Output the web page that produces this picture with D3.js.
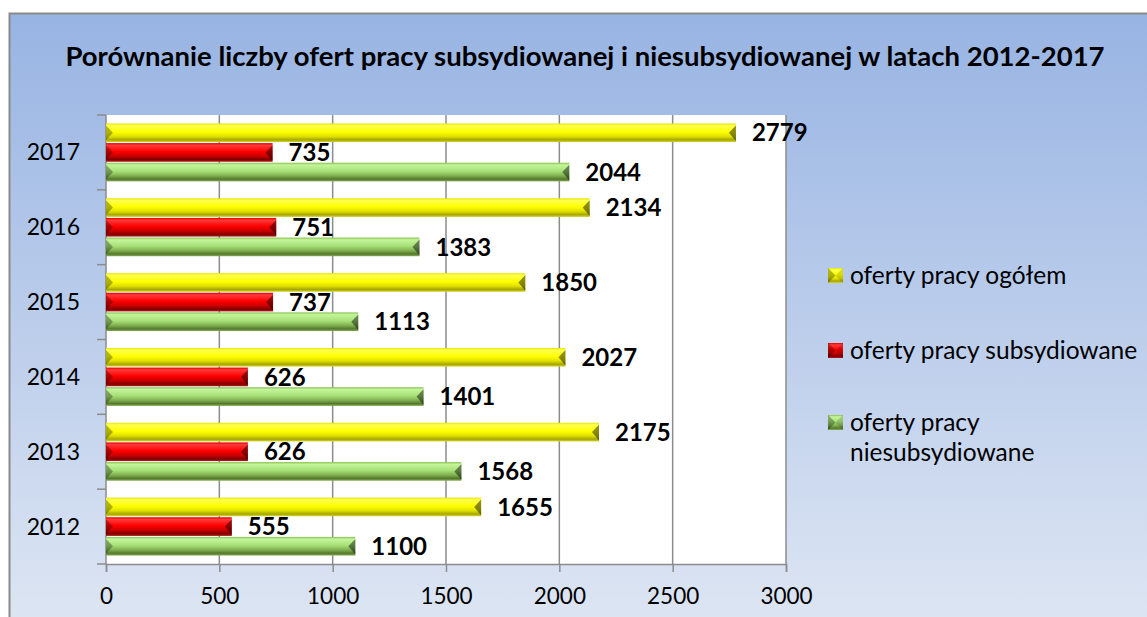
<!DOCTYPE html>
<html>
<head>
<meta charset="utf-8">
<title>oferty pracy</title>
<style>
  body { margin: 0; background: #ffffff; }
  svg { display: block; font-family: Lato, "Open Sans", sans-serif; }
</style>
</head>
<body>
<svg id="chart" width="1147" height="617"></svg>
<script src="https://cdn.jsdelivr.net/npm/d3@7"></script>
<script>
// ---------------- dane ----------------
var years = ["2012", "2013", "2014", "2015", "2016", "2017"];
var ogolem = [1655, 2175, 2027, 1850, 2134, 2779];
var subsydiowane = [555, 626, 626, 737, 751, 735];
var niesubsydiowane = [1100, 1568, 1401, 1113, 1383, 2044];
var seriesNames = ["oferty pracy ogółem", "oferty pracy subsydiowane", "oferty pracy niesubsydiowane"];
var xTicks = [0, 500, 1000, 1500, 2000, 2500, 3000];
var title = "Porównanie liczby ofert pracy subsydiowanej i niesubsydiowanej w latach 2012-2017";

var series = [
  { key: "ogolem", name: seriesNames[0], values: ogolem, grad: "gY" },
  { key: "sub", name: seriesNames[1], values: subsydiowane, grad: "gR" },
  { key: "niesub", name: seriesNames[2], values: niesubsydiowane, grad: "gG" }
];

var svg = d3.select("#chart");
var defs = svg.append("defs");

// tlo wykresu
var bg = defs.append("linearGradient").attr("id", "bg")
  .attr("x1", 0).attr("y1", 0).attr("x2", 0).attr("y2", 1);
bg.append("stop").attr("offset", "0%").attr("stop-color", "#98b4e3");
bg.append("stop").attr("offset", "100%").attr("stop-color", "#dee6f3");

// gradienty slupkow (efekt wypuklosci)
function barGrad(id, stops) {
  var g = defs.append("linearGradient").attr("id", id)
    .attr("x1", 0).attr("y1", 0).attr("x2", 0).attr("y2", 1);
  stops.forEach(function (s) {
    g.append("stop").attr("offset", s[0]).attr("stop-color", s[1]);
  });
}
barGrad("gY", [["0", "#e6e600"], ["0.12", "#ffff50"], ["0.45", "#ffff00"], ["0.7", "#e0e000"], ["0.88", "#a6a600"], ["1", "#d6d630"]]);
barGrad("gR", [["0", "#e00000"], ["0.12", "#ff3a3a"], ["0.45", "#ff0000"], ["0.7", "#c80000"], ["0.88", "#800000"], ["1", "#b01818"]]);
barGrad("gG", [["0", "#88c050"], ["0.12", "#c4f59a"], ["0.45", "#a8e078"], ["0.7", "#80b050"], ["0.88", "#54782c"], ["1", "#86ac58"]]);

svg.append("rect")
  .attr("x", 9.5).attr("y", 13.5)
  .attr("width", 1147).attr("height", 617)
  .attr("fill", "url(#bg)")
  .attr("stroke", "#8a8a8a").attr("stroke-width", 2);

// tytul
svg.append("text")
  .attr("x", 585).attr("y", 66)
  .attr("text-anchor", "middle")
  .attr("font-weight", "bold")
  .attr("font-size", "27.5px")
  .attr("fill", "#000")
  .text(title);

// obszar wykresu
var pLeft = 106, pRight = 786, pTop = 115, pBottom = 564;

var x = d3.scaleLinear().domain([0, 3000]).range([pLeft, pRight]);
var y = d3.scaleBand().domain(years.slice().reverse()).range([pTop, pBottom]);
var ys = d3.scaleBand().domain(series.map(function (s) { return s.key; }))
  .range([0, y.bandwidth()]).paddingInner(0.05).paddingOuter(0.43);

svg.append("rect")
  .attr("x", pLeft).attr("y", pTop)
  .attr("width", pRight - pLeft).attr("height", pBottom - pTop)
  .attr("fill", "#ffffff");

// siatka
svg.append("g").selectAll("line")
  .data(xTicks.slice(1))
  .enter().append("line")
  .attr("x1", function (d) { return x(d); })
  .attr("x2", function (d) { return x(d); })
  .attr("y1", pTop).attr("y2", pBottom)
  .attr("stroke", "#8c8c8c").attr("stroke-width", 1.5);

// os X
var xAxis = svg.append("g")
  .attr("transform", "translate(0," + pBottom + ")")
  .call(d3.axisBottom(x).tickValues(xTicks).tickFormat(d3.format("d")).tickSize(8).tickPadding(16));
xAxis.select(".domain").attr("stroke", "#8c8c8c").attr("stroke-width", 1.5);
xAxis.selectAll(".tick line").attr("stroke", "#8c8c8c").attr("stroke-width", 1.5);
xAxis.selectAll(".tick text")
  .attr("font-family", "Lato, sans-serif")
  .attr("font-size", "22.5px").attr("fill", "#000");

// os Y
var bandEdges = years.map(function (d) { return y(d); }).concat([pBottom]);
svg.append("line")
  .attr("x1", pLeft).attr("x2", pLeft).attr("y1", pTop).attr("y2", pBottom)
  .attr("stroke", "#8c8c8c").attr("stroke-width", 1.5);
svg.append("g").selectAll("line")
  .data(bandEdges)
  .enter().append("line")
  .attr("x1", pLeft - 9).attr("x2", pLeft)
  .attr("y1", function (d) { return d; }).attr("y2", function (d) { return d; })
  .attr("stroke", "#8c8c8c").attr("stroke-width", 1.5);
svg.append("g").selectAll("text")
  .data(years)
  .enter().append("text")
  .attr("x", 80)
  .attr("y", function (d) { return y(d) + y.bandwidth() / 2; })
  .attr("dy", "0.35em")
  .attr("text-anchor", "end")
  .attr("font-size", "23px")
  .text(function (d) { return d; });

// slupki
var rows = [];
series.forEach(function (s) {
  years.forEach(function (yr, i) {
    rows.push({ s: s, year: yr, v: s.values[i] });
  });
});

var bars = svg.append("g").selectAll("g.bar")
  .data(rows)
  .enter().append("g").attr("class", "bar");

bars.append("rect")
  .attr("x", x(0))
  .attr("y", function (d) { return y(d.year) + ys(d.s.key); })
  .attr("width", function (d) { return x(d.v) - x(0); })
  .attr("height", ys.bandwidth())
  .attr("fill", function (d) { return "url(#" + d.s.grad + ")"; });

// lewy koniec - trojkat
bars.append("path")
  .attr("d", function (d) {
    var y0 = y(d.year) + ys(d.s.key), h = ys.bandwidth(), x0 = x(0);
    return "M" + x0 + "," + (y0 + 2) + "L" + (x0 + 7) + "," + (y0 + h / 2) +
      "L" + x0 + "," + (y0 + h - 2) + "Z";
  })
  .attr("fill", "#000").attr("opacity", 0.3);

// prawy koniec - faza
bars.append("path")
  .attr("d", function (d) {
    var y0 = y(d.year) + ys(d.s.key), h = ys.bandwidth(), x1 = x(d.v);
    return "M" + (x1 - 7) + "," + (y0 + h / 2) + "L" + x1 + "," + (y0 + 2) +
      "L" + x1 + "," + (y0 + h - 1) + "Z";
  })
  .attr("fill", "#000").attr("opacity", 0.45);

// etykiety wartosci
bars.append("text")
  .attr("x", function (d) { return x(d.v) + 16; })
  .attr("y", function (d) { return y(d.year) + ys(d.s.key) + ys.bandwidth() / 2; })
  .attr("dy", "0.36em")
  .attr("font-weight", "bold")
  .attr("font-size", "24px")
  .text(function (d) { return d.v; });

// legenda
var legendRows = [
  { s: series[0], lines: ["oferty pracy ogółem"], y: 275 },
  { s: series[1], lines: ["oferty pracy subsydiowane"], y: 350 },
  { s: series[2], lines: ["oferty pracy", "niesubsydiowane"], y: 422 }
];
var lg = svg.append("g").selectAll("g")
  .data(legendRows)
  .enter().append("g");
lg.append("rect")
  .attr("x", 828).attr("y", function (d) { return d.y - 7; })
  .attr("width", 15).attr("height", 15)
  .attr("fill", function (d) { return "url(#" + d.s.grad + ")"; });
lg.append("path")
  .attr("d", function (d) {
    var y0 = d.y - 7;
    return "M828," + y0 + "L835.5," + (y0 + 7.5) + "L828," + (y0 + 15) + "Z";
  })
  .attr("fill", "#000").attr("opacity", 0.3);
lg.append("path")
  .attr("d", function (d) {
    var y0 = d.y - 7;
    return "M843," + y0 + "L835.5," + (y0 + 7.5) + "L843," + (y0 + 15) + "Z";
  })
  .attr("fill", "#000").attr("opacity", 0.15);
lg.each(function (d) {
  var g = d3.select(this);
  d.lines.forEach(function (t, i) {
    g.append("text")
      .attr("x", 850).attr("y", d.y + i * 30)
      .attr("dy", "0.35em")
      .attr("font-size", "24.5px")
      .text(t);
  });
});
</script>
</body>
</html>
